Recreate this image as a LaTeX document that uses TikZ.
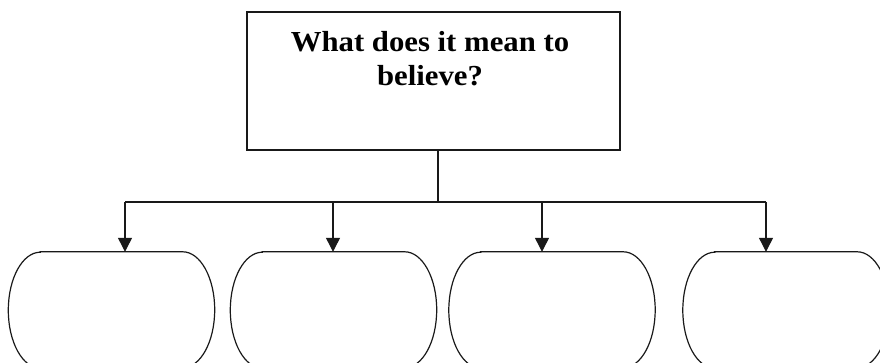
\documentclass[tikz,border=0pt]{standalone}
\usepackage{fontspec}
\setmainfont{Liberation Serif}
\usetikzlibrary{arrows.meta}
\tikzset{
  line/.style={line width=1.2pt, draw=black!90},
  arr/.style={line, -{Triangle[width=14pt,length=14pt]}},
  topbox/.style={line, draw, rectangle, minimum width=373pt, minimum height=138pt, inner sep=0pt},
  bottombox/.style={rectangle, draw=none, minimum width=206pt, minimum height=116pt, inner sep=0pt},
  title/.style={font=\bfseries\fontsize{29}{34}\selectfont, align=center, inner sep=0pt, anchor=north, xscale=1.06}
}
\begin{document}
\begin{tikzpicture}[x=1pt,y=-1pt]
\useasboundingbox (0,0) rectangle (880,363);
\clip (0,0) rectangle (880,363);
\fill[white] (0,0) rectangle (880,363);
% top box
\node[topbox] (top) at (433.5,81) {};
\node[title] (toptext) at (430,31) {What does it mean to\\believe?};
% bottom boxes
\node[bottombox] (b1) at (111.5,310) {};
\node[bottombox] (b2) at (333.5,310) {};
\node[bottombox] (b3) at (552,310) {};
\node[bottombox] (b4) at (786,310) {};
\foreach \b in {b1,b2,b3,b4}{
  \draw[line] ([xshift=32pt]\b.north west) -- ([xshift=-32pt]\b.north east)
    arc[start angle=90, end angle=-90, x radius=32pt, y radius=58pt]
    -- ([xshift=32pt]\b.south west)
    arc[start angle=270, end angle=90, x radius=32pt, y radius=58pt] -- cycle;
}
% connectors
\coordinate (j) at (438,202);
\coordinate (c1) at (125,202);
\coordinate (c2) at (333,202);
\coordinate (c3) at (542,202);
\coordinate (c4) at (766,202);
\draw[line] (top.south -| j) -- (j);
\draw[line] (c1) -- (c4);
\draw[arr] (c1) -- (c1 |- b1.north);
\draw[arr] (c2) -- (c2 |- b2.north);
\draw[arr] (c3) -- (c3 |- b3.north);
\draw[arr] (c4) -- (c4 |- b4.north);
\end{tikzpicture}
\end{document}
